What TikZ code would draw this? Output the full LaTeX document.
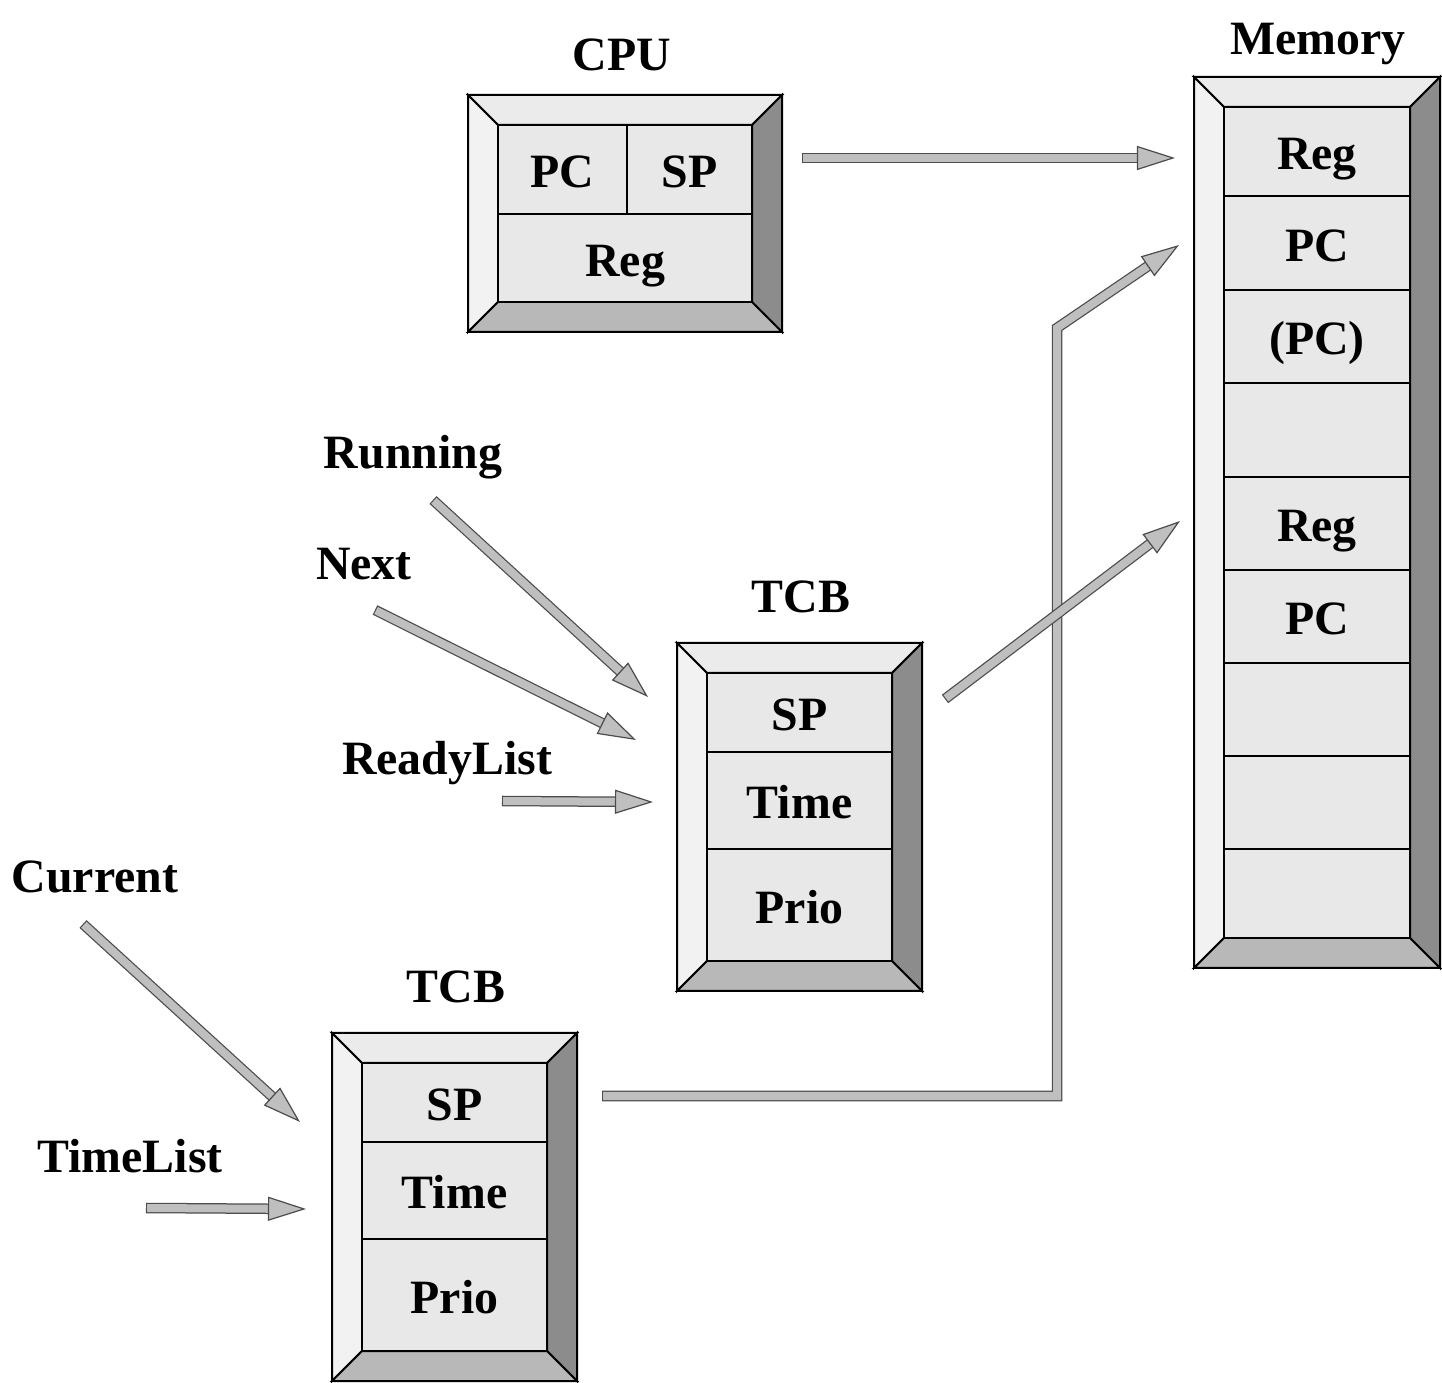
\documentclass[tikz,border=0pt]{standalone}
\usepackage{fontspec}
\setmainfont{Liberation Serif}
\usetikzlibrary{arrows.meta}

\definecolor{bevtop}{gray}{0.92}
\definecolor{bevleft}{gray}{0.95}
\definecolor{bevright}{gray}{0.55}
\definecolor{bevbottom}{gray}{0.72}
\definecolor{cellfill}{gray}{0.91}
\definecolor{arrowfill}{gray}{0.75}
\definecolor{arrowline}{gray}{0.3}

\newcommand{\lblfont}{\fontsize{13.6}{16}\selectfont\bfseries}

% outer corners (#1,#2) and (#3,#4), bevel depth #5
\newcommand{\bevelbox}[5]{%
    \filldraw[bevel, fill=bevtop] (#1,#2) -- (#3,#2) -- (#3-#5,#2+#5) -- (#1+#5,#2+#5) -- cycle;
    \filldraw[bevel, fill=bevleft] (#1,#2) -- (#1+#5,#2+#5) -- (#1+#5,#4-#5) -- (#1,#4) -- cycle;
    \filldraw[bevel, fill=bevright] (#3,#2) -- (#3,#4) -- (#3-#5,#4-#5) -- (#3-#5,#2+#5) -- cycle;
    \filldraw[bevel, fill=bevbottom] (#1,#4) -- (#3,#4) -- (#3-#5,#4-#5) -- (#1+#5,#4-#5) -- cycle;
}

\newcommand{\blockarrow}[1]{%
    \draw[arrowback] #1;
    \draw[arrowfront] #1;
}

\begin{document}
\begin{tikzpicture}[x=0.01cm, y=-0.01cm,
    bevel/.style={line width=0.2mm, line join=miter},
    cell/.style={draw, fill=cellfill, line width=0.2mm, inner sep=0pt, outer sep=0pt,
        anchor=north west, text height=3.6mm, text depth=0mm, font=\lblfont},
    lbl/.style={anchor=base, font=\lblfont, inner sep=0pt},
    arrowback/.style={line width=1.05mm, draw=arrowline, shorten >=3.6mm, line join=miter},
    arrowfront/.style={line width=0.8mm, draw=arrowfill, shorten <=0.12mm, line join=miter,
        -{Triangle[length=3.8mm, width=2.4mm, line width=0.12mm, fill=arrowfill, color=arrowline]}}]
    \useasboundingbox (0,0) rectangle (1442,1383);

    % CPU
    \bevelbox{468}{95}{782}{332}{30}
    \node[cell, minimum width=1.29cm, minimum height=0.89cm] (cpupc) at (498,125) {PC};
    \node[cell, minimum width=1.25cm, minimum height=0.89cm] (cpusp) at (627,125) {SP};
    \node[cell, minimum width=2.54cm, minimum height=0.88cm] (cpureg) at (498,214) {Reg};
    \node[lbl] (cpulbl) at (622,71) {CPU};

    % Memory
    \bevelbox{1194}{77}{1440}{968}{30}
    \foreach \ya/\yb/\t [count=\i] in {107/196/Reg, 196/290/PC, 290/383/{(PC)}, 383/477/{},
        477/570/Reg, 570/663/PC, 663/756/{}, 756/849/{}, 849/938/{}}
        \node[cell, minimum width=1.86cm, minimum height={(\yb-\ya)*0.1mm}] (mem\i) at (1224,\ya) {\t};
    \node[lbl] (memlbl) at (1318,55) {Memory};

    % TCBs
    \foreach \x/\y/\n in {677/643/a, 332/1033/b} {
        \bevelbox{\x}{\y}{\x+245}{\y+348}{30}
        \node[cell, minimum width=1.85cm, minimum height=0.79cm] (sp\n) at (\x+30,\y+30) {SP};
        \node[cell, minimum width=1.85cm, minimum height=0.97cm] (time\n) at (\x+30,\y+109) {Time};
        \node[cell, minimum width=1.85cm, minimum height=1.12cm] (prio\n) at (\x+30,\y+206) {Prio};
        \node[lbl] (tcblbl\n) at (\x+124,\y-30) {TCB};
    }

    % pointer names
    \node[lbl] (running) at (413,469) {Running};
    \node[lbl] (next) at (364,580) {Next};
    \node[lbl] (ready) at (447,775) {ReadyList};
    \node[lbl] (current) at (95,893) {Current};
    \node[lbl] (timelist) at (130,1173) {TimeList};

    \coordinate (cpuout) at (802,158);
    \coordinate (memtop) at (1175,158);
    \coordinate (runout) at (433,500);
    \coordinate (runin) at (648,697);
    \coordinate (nextout) at (375,610);
    \coordinate (nextin) at (636,740);
    \coordinate (readyout) at (502,801);
    \coordinate (readyin) at (653,802);
    \coordinate (tcbaout) at (945,699);
    \coordinate (memlow) at (1180,521);
    \coordinate (curout) at (83,924);
    \coordinate (curin) at (300,1122);
    \coordinate (timeout) at (146,1208);
    \coordinate (timein) at (306,1209);
    \coordinate (tcbbout) at (602,1096);
    \coordinate (bend) at (1057,328);
    \coordinate (memmid) at (1179,245);

    \blockarrow{(cpuout) -- (memtop)}
    \blockarrow{(runout) -- (runin)}
    \blockarrow{(nextout) -- (nextin)}
    \blockarrow{(readyout) -- (readyin)}
    \blockarrow{(tcbbout) -- (tcbbout -| bend) -- (bend) -- (memmid)}
    \blockarrow{(tcbaout) -- (memlow)}
    \blockarrow{(curout) -- (curin)}
    \blockarrow{(timeout) -- (timein)}
\end{tikzpicture}
\end{document}
